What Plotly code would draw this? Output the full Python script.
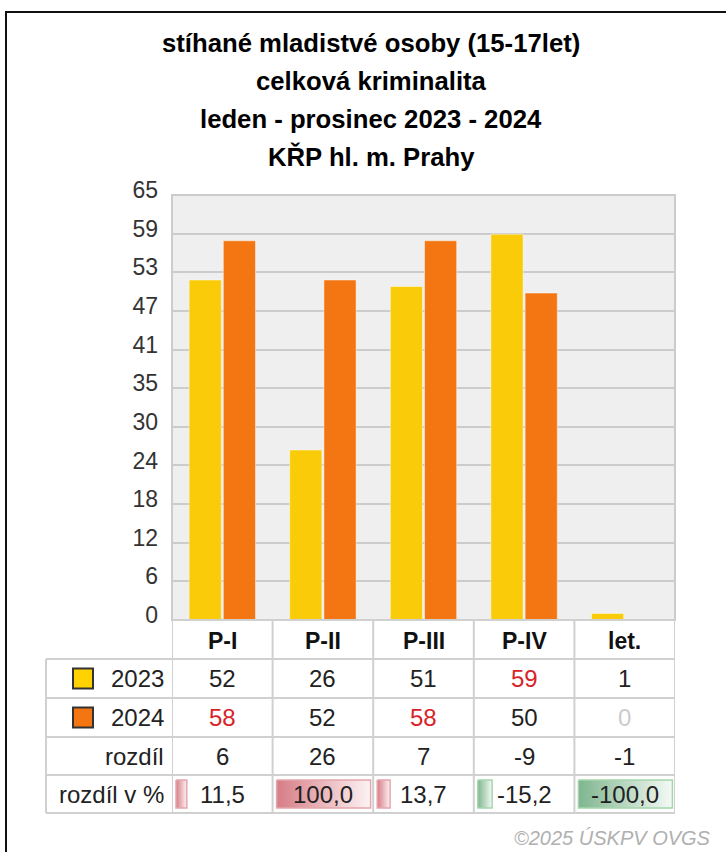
import plotly.graph_objects as go

W, H = 726, 852

# ---------------- data ----------------
title_lines = [
    "stíhané mladistvé osoby (15-17let)",
    "celková kriminalita",
    "leden - prosinec 2023 - 2024",
    "KŘP hl. m. Prahy",
]
categories = ["P-I", "P-II", "P-III", "P-IV", "let."]
series_names = ["2023", "2024"]
v2023 = [52, 26, 51, 59, 1]
v2024 = [58, 52, 58, 50, 0]
diff = [6, 26, 7, -9, -1]
pct = [11.5, 100.0, 13.7, -15.2, -100.0]
hi2023 = [False, False, False, True, False]
hi2024 = [True, False, True, False, False]
ytick_labels = ["0", "6", "12", "18", "24", "30", "35", "41", "47", "53", "59", "65"]
ymax = 65
row_labels = ["2023", "2024", "rozdíl", "rozdíl v %"]
copyright_text = "©2025 ÚSKPV OVGS"

# ---------------- style / layout ----------------
colors = ["#F9CB08", "#F37613"]
legend_fill = ["#FFD200", "#F47612"]
FONT = "Liberation Sans, Arial, sans-serif"
GRID = "#cccccc"
TABLE_LINE = "#d0d0d0"
RED = "#d8232a"

PL, PR, PT, PB = 172, 675, 195, 620
rows = [620, 659, 698, 737, 775, 813]
TL = 46
n = len(categories)
unit = (PR - PL) / n  # px per category


def px(x):
    return x / W


def py(y):
    return 1 - y / H


xs = list(range(n))

fig = go.Figure()
for name, vals, col in zip(series_names, [v2023, v2024], colors):
    fig.add_trace(go.Bar(
        x=xs, y=vals, name=name,
        marker=dict(color=col, line=dict(color="rgba(255,255,255,0.45)", width=1)),
        hovertemplate=name + ": %{y}<extra></extra>",
        showlegend=False,
    ))

# gradient bars in "rozdíl v %" row
bar_top, bar_bot = 780, 808
full_w = 94
for i, p in enumerate(pct):
    x0 = i - 0.5 + 4 / unit
    x1 = x0 + abs(p) / 100 * full_w / unit
    if p >= 0:
        cs = [[0, "#d77c85"], [1, "#fdf3f4"]]
        border = "#e3a7ad"
    else:
        cs = [[0, "#7fb58f"], [1, "#f4faf5"]]
        border = "#a5d6ab"
    fig.add_trace(go.Scatter(
        x=[x0, x1, x1, x0, x0], y=[bar_top, bar_top, bar_bot, bar_bot, bar_top],
        mode="lines", fill="toself",
        fillgradient=dict(type="horizontal", colorscale=cs),
        line=dict(color=border, width=1.5),
        xaxis="x", yaxis="y2", hoverinfo="skip", showlegend=False,
    ))

shapes = []
# plot background
shapes.append(dict(type="rect", xref="x domain", yref="y domain", x0=0, x1=1, y0=0, y1=1,
                   fillcolor="#efefef", line=dict(width=0), layer="below"))
# plot border
shapes.append(dict(type="rect", xref="x domain", yref="y domain", x0=0, x1=1, y0=0, y1=1,
                   fillcolor="rgba(0,0,0,0)", line=dict(color=GRID, width=2), layer="above"))
# outer frame
shapes.append(dict(type="rect", xref="paper", yref="paper", x0=px(6), x1=px(745), y0=py(880), y1=py(12),
                   fillcolor="rgba(0,0,0,0)", line=dict(color="#111111", width=2)))
# table horizontal lines
shapes.append(dict(type="line", xref="paper", yref="paper", x0=px(PL), x1=px(PR), y0=py(rows[0]), y1=py(rows[0]),
                   line=dict(color=TABLE_LINE, width=2)))
for r in rows[1:]:
    shapes.append(dict(type="line", xref="paper", yref="paper", x0=px(TL), x1=px(PR), y0=py(r), y1=py(r),
                       line=dict(color=TABLE_LINE, width=2)))
# table vertical lines
shapes.append(dict(type="line", xref="paper", yref="paper", x0=px(TL), x1=px(TL), y0=py(rows[1]), y1=py(rows[-1]),
                   line=dict(color=TABLE_LINE, width=2)))
for i in range(n + 1):
    shapes.append(dict(type="line", xref="x", yref="paper", x0=i - 0.5, x1=i - 0.5, y0=py(rows[0]), y1=py(rows[-1]),
                       line=dict(color=TABLE_LINE, width=2)))
# legend squares
for k, fc in enumerate(legend_fill):
    yc = (rows[1 + k] + rows[2 + k]) / 2
    shapes.append(dict(type="rect", xref="paper", yref="paper", x0=px(73), x1=px(93), y0=py(yc + 10), y1=py(yc - 10),
                       fillcolor=fc, line=dict(color="#333333", width=2)))

ann = []
# title
for k, t in enumerate(title_lines):
    ann.append(dict(text="<b>" + t + "</b>", xref="paper", yref="paper", x=px(371), y=py(43 + 38 * k),
                    xanchor="center", yanchor="middle", showarrow=False,
                    font=dict(family=FONT, size=25.7, color="#000000")))
# header row
yc = (rows[0] + rows[1]) / 2
for i, c in enumerate(categories):
    ann.append(dict(text="<b>" + c + "</b>", xref="x", yref="paper", x=i, y=py(yc + 1), showarrow=False,
                    xanchor="center", yanchor="middle", font=dict(family=FONT, size=23, color="#111111")))
# row labels
for k, lab in enumerate(row_labels):
    yc = (rows[1 + k] + rows[2 + k]) / 2
    ann.append(dict(text=lab, xref="paper", yref="paper", x=px(166), y=py(yc), showarrow=False,
                    xanchor="right", yanchor="middle", font=dict(family=FONT, size=24, color="#222222")))


def cell(i, k, text, color="#222222"):
    yc = (rows[1 + k] + rows[2 + k]) / 2
    ann.append(dict(text=text, xref="x", yref="paper", x=i, y=py(yc), showarrow=False,
                    xanchor="center", yanchor="middle", font=dict(family=FONT, size=24, color=color)))


for i in range(n):
    a, b = v2023[i], v2024[i]
    cell(i, 0, str(a), RED if hi2023[i] else ("#cccccc" if a == 0 else "#222222"))
    cell(i, 1, str(b), RED if hi2024[i] else ("#cccccc" if b == 0 else "#222222"))
    cell(i, 2, str(diff[i]))
    cell(i, 3, f"{pct[i]:.1f}".replace(".", ","))

ann.append(dict(text="<i>" + copyright_text + "</i>", xref="paper", yref="paper", x=px(713), y=py(838),
                xanchor="right", yanchor="middle", showarrow=False,
                font=dict(family=FONT, size=20, color="#b0b0b0")))

tickvals = [k * ymax / (len(ytick_labels) - 1) for k in range(len(ytick_labels))]

fig.update_layout(
    width=W, height=H,
    margin=dict(l=0, r=0, t=0, b=0, autoexpand=False),
    paper_bgcolor="white", plot_bgcolor="rgba(0,0,0,0)",
    barmode="group", bargap=0.32, bargroupgap=0.06,
    showlegend=False,
    shapes=shapes, annotations=ann,
    xaxis=dict(domain=[px(PL), px(PR)], range=[-0.5, n - 0.5], showticklabels=False,
               showgrid=False, zeroline=False, fixedrange=True, anchor="y", automargin=False),
    yaxis=dict(domain=[py(PB), py(PT)], range=[0, ymax], tickvals=tickvals, ticktext=ytick_labels,
               showgrid=True, gridcolor=GRID, gridwidth=2, zeroline=False, fixedrange=True,
               tickfont=dict(family=FONT, size=23, color="#333333"),
               ticklabelstandoff=13, ticklabelshift=-5, anchor="x", automargin=False),
    yaxis2=dict(domain=[0, 1], range=[H, 0], visible=False, fixedrange=True, anchor="x", automargin=False),
)

fig.write_html(
    "out.html",
    config={"displayModeBar": False},
    post_script="document.body.style.margin='0';document.body.style.overflow='hidden';",
)
